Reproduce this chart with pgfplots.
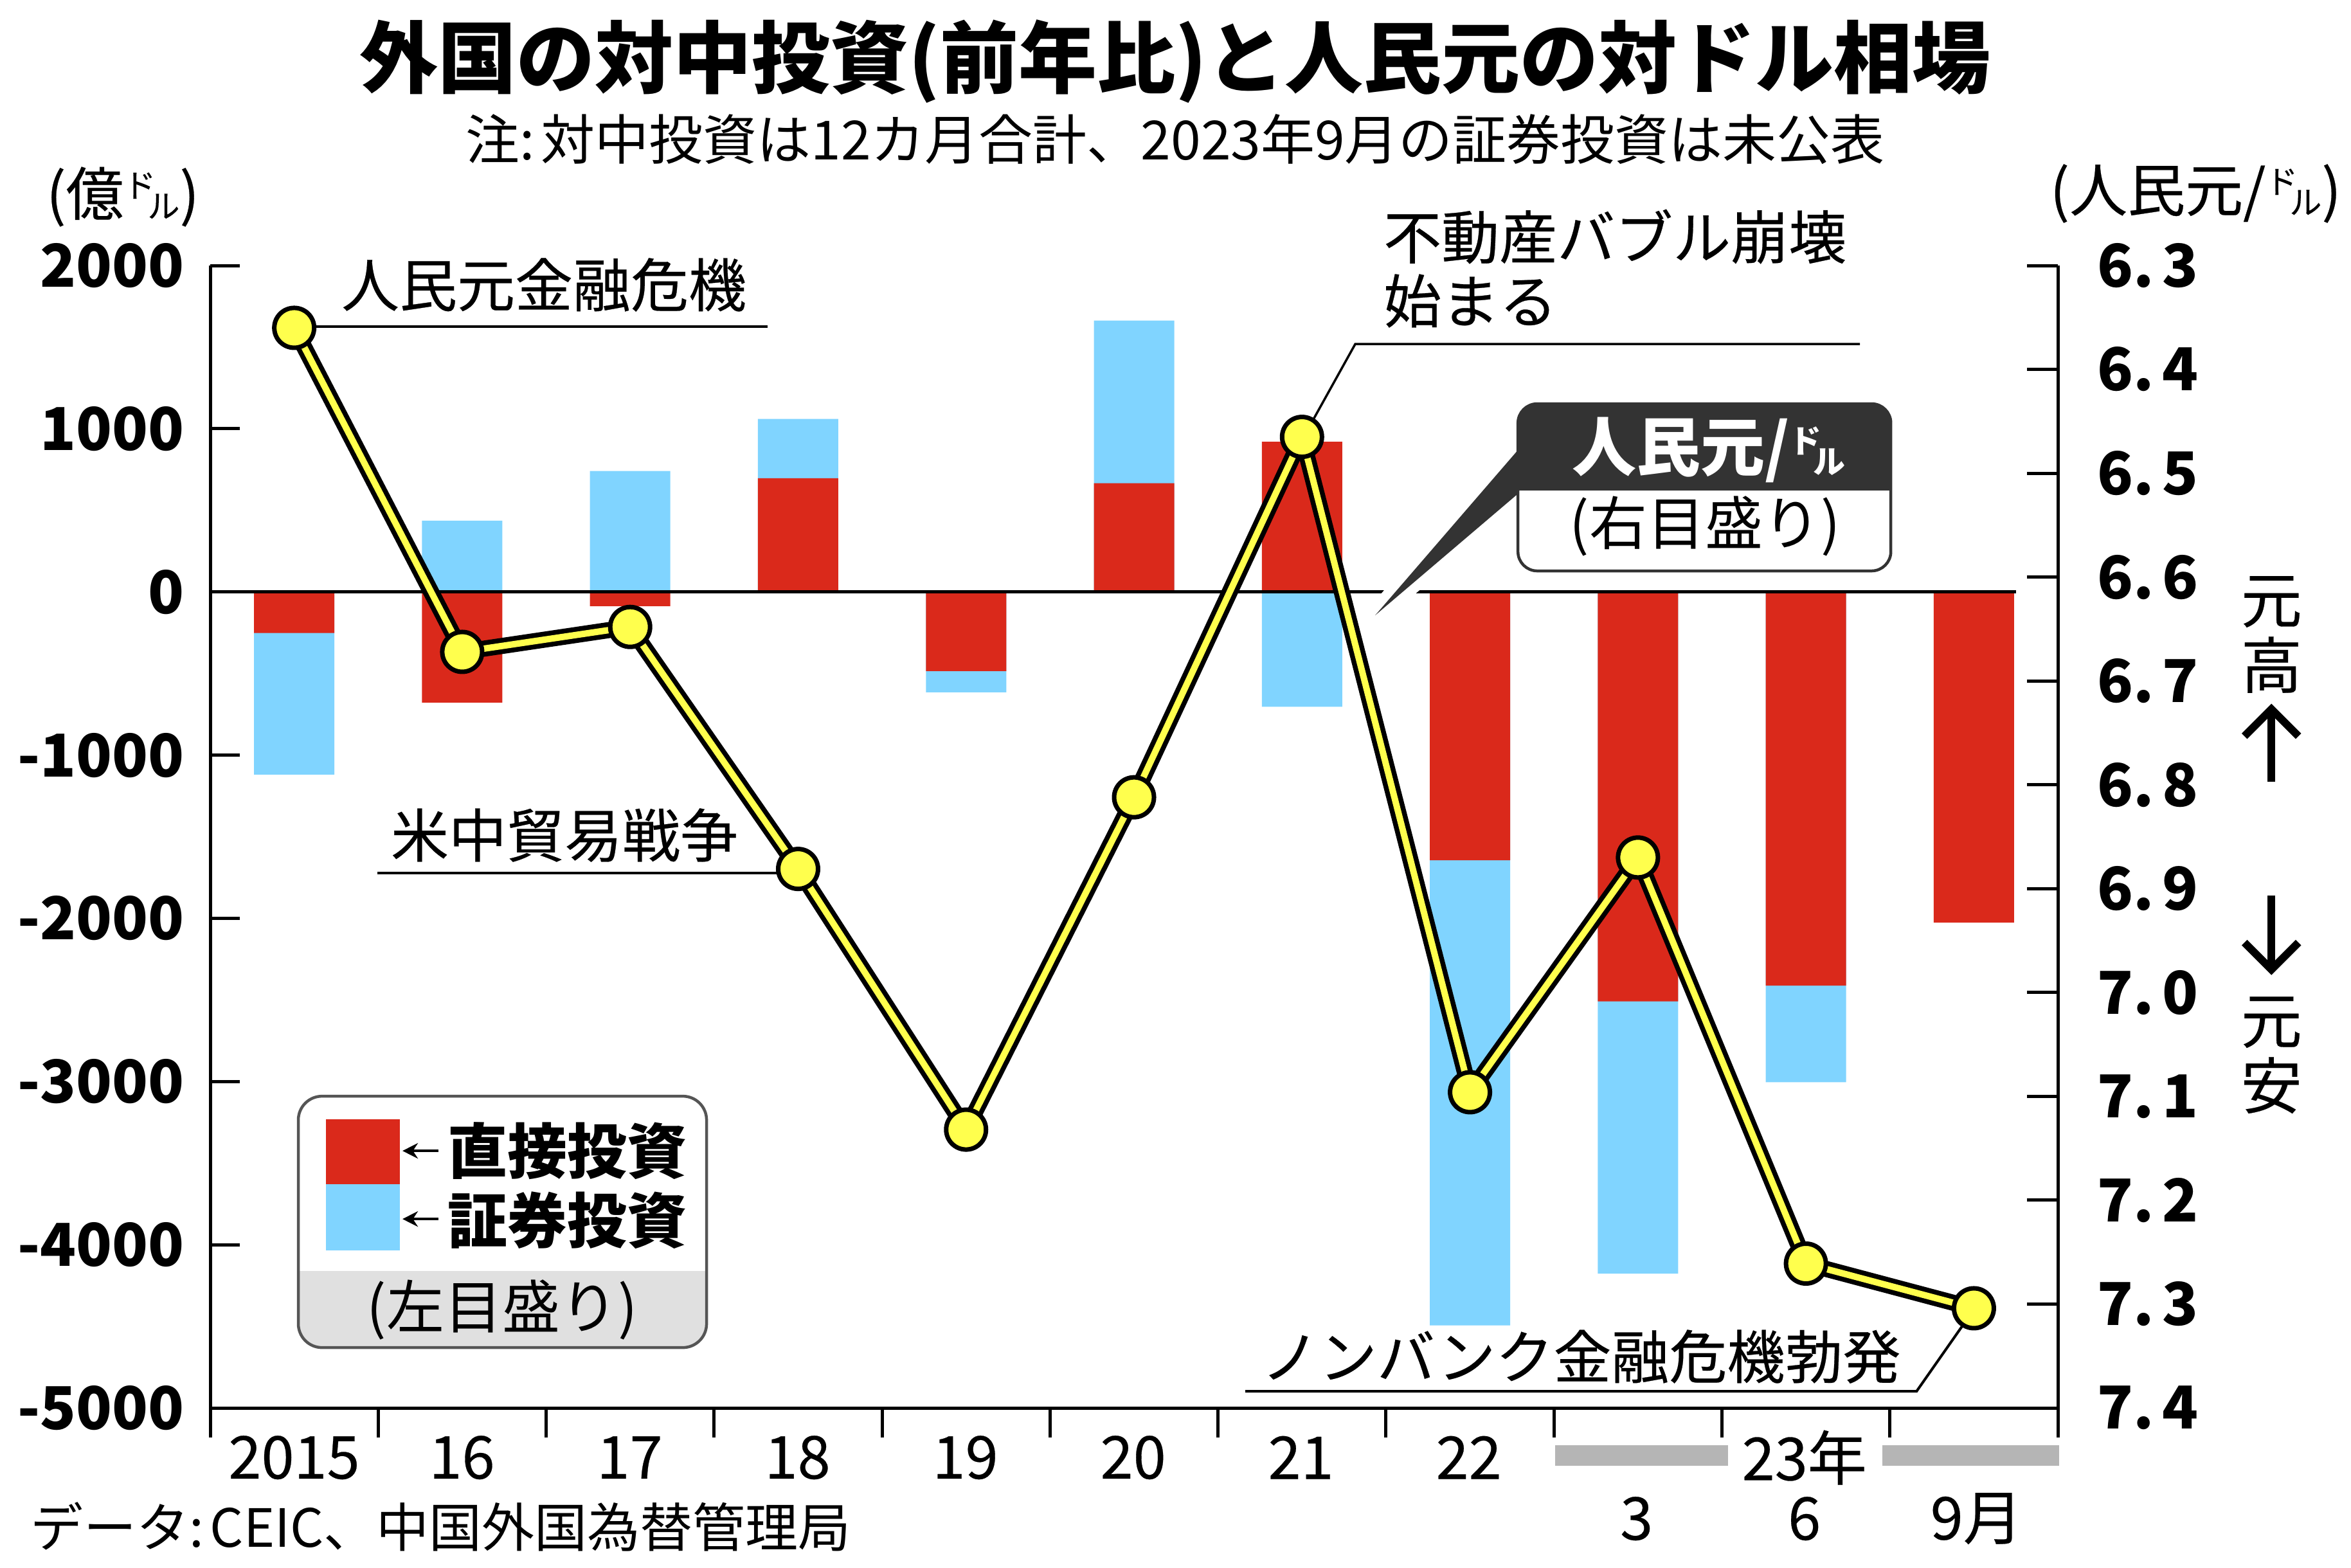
\documentclass[border=0pt]{standalone}
\usepackage{fontspec}
\usepackage{pgfplots}
\usepackage{pgfplotstable}
\pgfplotsset{compat=1.18}
\usetikzlibrary{arrows.meta}
\newfontfamily\cjk{Noto Sans CJK JP}
\newfontfamily\cjkm[FakeBold=0.3]{Noto Sans CJK JP}
\definecolor{myred}{RGB}{218,41,27}
\definecolor{myblue}{RGB}{128,212,255}
\definecolor{myyellow}{RGB}{255,255,77}
\definecolor{dark}{RGB}{51,51,51}
\definecolor{gbar}{RGB}{181,181,181}
\definecolor{lgray}{RGB}{224,224,224}
\definecolor{bordergray}{RGB}{85,85,85}
\newcommand{\dol}{{\fontsize{5}{5}\selectfont\raisebox{2.8pt}{ド}\kern-1.3pt\raisebox{-0.4pt}{ル}}}

% direct (d), portfolio (p), end of portfolio bar (pend), 100 million USD
\pgfplotstableread{
x d p pend
0 -252 -867 -1119
1 -678 437 437
2 -87 741 741
3 697 363 1060
4 -485 -130 -615
5 666 997 1663
6 920 -704 -704
7 -1644 -2850 -4494
8 -2509 -1668 -4177
9 -2412 -592 -3004
10 -2026 nan nan
}\inv

% yuan per dollar
\pgfplotstableread{
x r
0 6.360
1 6.672
2 6.648
3 6.881
4 7.132
5 6.812
6 6.465
7 7.096
8 6.870
9 7.261
10 7.304
}\cny

\begin{document}
\begin{tikzpicture}
\useasboundingbox (0,0) rectangle (365.7pt,243.8pt);

\begin{axis}[
  at={(32.7pt,24.8pt)}, anchor=south west,
  scale only axis, width=287.4pt, height=177.7pt,
  xmin=-0.5, xmax=10.5, ymin=-5000, ymax=2000,
  axis x line*=bottom, axis y line*=left,
  axis line style={line width=0.5pt,-},
  xtick={-0.5,0.5,1.5,2.5,3.5,4.5,5.5,6.5,7.5,8.5,9.5,10.5},
  xticklabel={\mbox{}}, xtick align=outside,
  ytick={-5000,-4000,-3000,-2000,-1000,0,1000,2000},
  yticklabels={-5000,-4000,-3000,-2000,-1000,0,1000,2000},
  ytick align=inside,
  major tick length=4.6pt,
  tick style={line width=0.5pt,black},
  yticklabel style={font={\cjk\bfseries\fontsize{9.2}{11}\selectfont}, inner sep=0pt, xshift=-3.8pt},
  ybar, bar width=12.5pt,
  clip=false,
]
\addplot[fill=myblue, draw=none, bar shift=0pt] table[x=x,y=pend]{\inv};
\addplot[fill=myred, draw=none, bar shift=0pt] table[x=x,y=d]{\inv};
\draw[line width=0.5pt] (axis cs:-0.5,0) -- (axis cs:10.25,0);
\end{axis}

\begin{scope}[shift={(0pt,243.8pt)}, x=0.1pt, y=-0.1pt]
% title
\node[font={\cjk\bfseries\fontsize{12.2}{14}\selectfont}] at (1828,96) {外国の対中投資(前年比)と人民元の対ドル相場};
\node[font={\cjk\fontsize{8.4}{10}\selectfont}] at (1828,217) {注:\kern1pt 対中投資は12カ月合計、2023年9月の証券投資は未公表};
% units
\node[font={\cjkm\fontsize{9}{10}\selectfont}] at (191,306) {(億\dol)};
\node[font={\cjkm\fontsize{9}{10}\selectfont}] at (3415,301) {(人民元/\dol)};
% axis extensions below
\draw[line width=0.5pt] (327,2190) -- (327,2236);
\draw[line width=0.5pt] (3201,2190) -- (3201,2236);
% x labels
\begin{scope}[every node/.style={font={\cjkm\fontsize{9.2}{10}\selectfont}}]
\node at (457.5,2267) {2015};
\node at (718.5,2267) {16};
\node at (979.5,2267) {17};
\node at (1240.5,2267) {18};
\node at (1501.5,2267) {19};
\node at (1762.5,2267) {20};
\node at (2023.5,2267) {21};
\node at (2284.5,2267) {22};
\node at (2806.5,2267) {23年};
\node at (2545.5,2362) {3};
\node at (2806.5,2362) {6};
\node at (3074,2362) {9月};
\end{scope}
\fill[gbar] (2419,2248) rectangle (2688,2280);
\fill[gbar] (2928,2248) rectangle (3203,2280);
% right side labels
\begin{scope}[every node/.style={font={\cjkm\fontsize{9.5}{10}\selectfont}}]
\node at (3533,936) {元};
\node at (3533,1034) {高};
\node at (3533,1590) {元};
\node at (3533,1688) {安};
\end{scope}
\draw[line width=1.2pt] (3533,1216) -- (3533,1104);
\draw[line width=1.2pt, line join=miter] (3491,1145) -- (3533,1103) -- (3575,1145);
\draw[line width=1.2pt] (3533,1393) -- (3533,1506);
\draw[line width=1.2pt, line join=miter] (3491,1466) -- (3533,1508) -- (3575,1466);
% annotation lines
\draw[line width=0.45pt] (458,508) -- (1194,508);
\draw[line width=0.45pt] (587,1358) -- (1240,1358);
\draw[line width=0.35pt] (2028,679) -- (2108,535) -- (2893,535);
\draw[line width=0.4pt] (1937,2164) -- (2981,2164) -- (3072,2034);
% annotation texts
\begin{scope}[every node/.style={font={\cjkm\fontsize{9}{10}\selectfont}}]
\node at (846,443) {人民元金融危機};
\node[anchor=west, inner sep=0pt] at (2150,368) {不動産バブル崩壊};
\node[anchor=west, inner sep=0pt] at (2150,468) {始まる};
\node at (878,1299) {米中貿易戦争};
\node at (2459,2110) {ノンバンク金融危機勃発};
\end{scope}
% data source
\node[anchor=west, inner sep=0pt, font={\cjk\fontsize{8.2}{10}\selectfont}] at (46,2375) {データ:\kern1pt CEIC、中国外国為替管理局};
% legend
\begin{scope}
\clip[rounded corners=3.7pt] (464,1705) rectangle (1099,2096);
\fill[white] (464,1705) rectangle (1099,1977);
\fill[lgray] (464,1977) rectangle (1099,2096);
\end{scope}
\draw[bordergray, line width=0.45pt, rounded corners=3.7pt] (464,1705) rectangle (1099,2096);
\fill[myred] (507,1741) rectangle (622,1842);
\fill[myblue] (507,1842) rectangle (622,1945);
\draw[line width=0.4pt, -{Stealth[length=2.4pt,width=2.4pt]}] (682,1790) -- (626,1790);
\draw[line width=0.4pt, -{Stealth[length=2.4pt,width=2.4pt]}] (682,1896) -- (626,1896);
\node[anchor=west, inner sep=0pt, font={\cjk\bfseries\fontsize{9.3}{10}\selectfont}] at (694,1790) {直接投資};
\node[anchor=west, inner sep=0pt, font={\cjk\bfseries\fontsize{9.3}{10}\selectfont}] at (694,1898) {証券投資};
\node[font={\cjk\fontsize{9}{10}\selectfont}] at (781,2037) {(左目盛り)};
% callout
\draw[white, line width=3pt, line join=round] (2361,700) -- (2139,957) -- (2361,768) -- cycle;
\fill[dark] (2361,700) -- (2139,957) -- (2361,768) -- cycle;
\begin{scope}
\clip[rounded corners=3pt] (2361,628) rectangle (2941,888);
\fill[white] (2361,628) rectangle (2941,888);
\fill[dark] (2361,628) rectangle (2941,763);
\end{scope}
\draw[dark, line width=0.45pt, rounded corners=3pt] (2361,628) rectangle (2941,888);
\node[white, font={\cjk\bfseries\fontsize{10}{11}\selectfont}] at (2658,700) {人民元/\dol};
\node[font={\cjk\fontsize{9}{10}\selectfont}] at (2652,818) {(右目盛り)};
\end{scope}

\begin{axis}[
  at={(32.7pt,24.8pt)}, anchor=south west,
  scale only axis, width=287.4pt, height=177.7pt,
  xmin=-0.5, xmax=10.5, ymin=6.3, ymax=7.4, y dir=reverse,
  axis x line=none, axis y line*=right,
  axis line style={line width=0.5pt,-},
  ytick={6.3,6.4,6.5,6.6,6.7,6.8,6.9,7.0,7.1,7.2,7.3,7.4},
  yticklabels={{6.\kern1.3pt3},{6.\kern1.3pt4},{6.\kern1.3pt5},{6.\kern1.3pt6},{6.\kern1.3pt7},{6.\kern1.3pt8},{6.\kern1.3pt9},{7.\kern1.3pt0},{7.\kern1.3pt1},{7.\kern1.3pt2},{7.\kern1.3pt3},{7.\kern1.3pt4}},
  ytick align=inside,
  major tick length=4.8pt,
  tick style={line width=0.5pt,black},
  yticklabel style={font={\cjk\bfseries\fontsize{9.2}{11}\selectfont}, inner sep=0pt, xshift=5.9pt},
  clip=false,
]
\addplot[black, line width=2.5pt, line join=round, no marks] table[x=x,y=r]{\cny};
\addplot[myyellow, line width=1.0pt, line join=round, no marks] table[x=x,y=r]{\cny};
\addplot[only marks, mark=*, mark size=3.1pt, mark options={fill=myyellow, draw=black, line width=0.7pt}] table[x=x,y=r]{\cny};
\end{axis}
\end{tikzpicture}
\end{document}
